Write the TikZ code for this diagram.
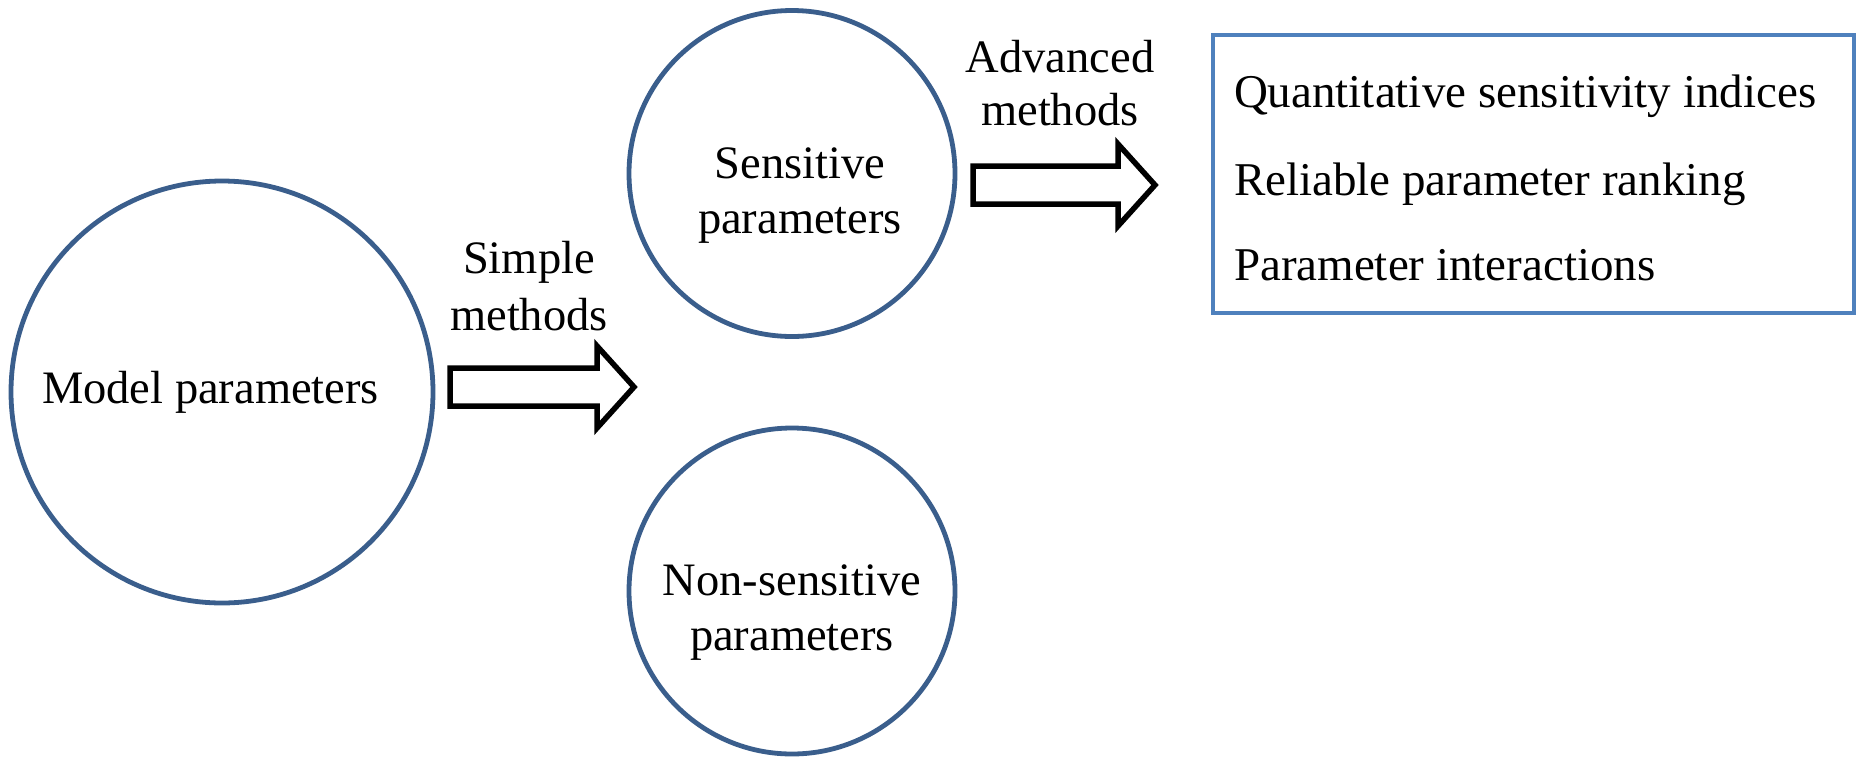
\documentclass[tikz,border=0pt]{standalone}
\usepackage{fontspec}
\setmainfont{Liberation Serif}
\usetikzlibrary{calc}
\definecolor{circblue}{RGB}{58,94,140}
\definecolor{boxblue}{RGB}{79,129,189}

% hollow block arrow from #1 (tail, middle of shaft) to #2 (tip)
\newcommand\drawblockarrow[2]{%
  \draw[blockarrow]
    ($(#1)+(0,-19)$) -- ($(#2)+(-37,-19)$) -- ($(#2)+(-37,-41)$) -- (#2)
    -- ($(#2)+(-37,41)$) -- ($(#2)+(-37,19)$) -- ($(#1)+(0,19)$) -- cycle;}

\begin{document}
\begin{tikzpicture}[x=1pt,y=-1pt,
  every node/.style={inner sep=0pt, outer sep=0pt},
  param/.style={circle, draw=circblue, line width=4.8pt, minimum size=#1},
  captxt/.style={font=\fontsize{46.5}{55}\selectfont, align=center, anchor=base},
  itemtxt/.style={font=\fontsize{47}{56}\selectfont, anchor=base west},
  resbox/.style={draw=boxblue, line width=4.8pt, rectangle},
  blockarrow/.style={draw=black, line width=5.5pt, fill=white, line join=miter, miter limit=10}]
\useasboundingbox (0,0) rectangle (1858,756);

% parameter sets
\node[param=422pt] (model) at (222,392) {};
\node[param=326pt] (sens) at (792,173.5) {};
\node[param=326pt] (nons) at (792,591) {};

% multi-line captions are anchored at the baseline of their last line
\node[captxt] (modeltxt) at (210.5,403) {Model parameters};
\node[captxt] (senstxt) at (800,233) {Sensitive\\parameters};
\node[captxt] (nonstxt) at (792,650) {Non-sensitive\\parameters};

% screening step
\coordinate (a1s) at (450,387);
\coordinate (a1e) at (634,387);
\drawblockarrow{a1s}{a1e}
\node[captxt, font=\fontsize{46.5}{57}\selectfont] (simple) at (529,330) {Simple\\methods};

% quantitative step
\coordinate (a2s) at (973,185);
\coordinate (a2e) at (1155,185);
\drawblockarrow{a2s}{a2e}
\node[captxt, font=\fontsize{46.5}{53}\selectfont] (adv) at (1060,125) {Advanced\\methods};

% results
\node[resbox, minimum width=641pt, minimum height=278pt] (res) at (1533.5,174) {};
\node[itemtxt] (r1) at (1234,107) {Quantitative sensitivity indices};
\node[itemtxt] (r2) at (1234,195) {Reliable parameter ranking};
\node[itemtxt] (r3) at (1234,280) {Parameter interactions};
\end{tikzpicture}
\end{document}
